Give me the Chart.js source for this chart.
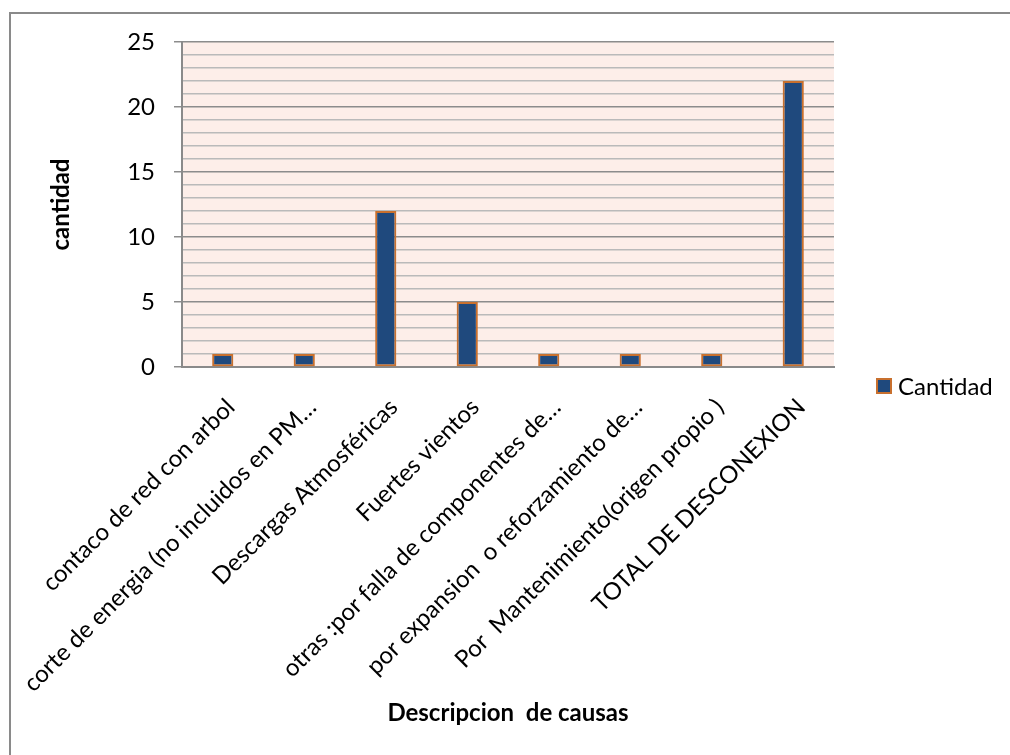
<!DOCTYPE html>
<html>
<head>
<meta charset="utf-8">
<script src="https://cdn.jsdelivr.net/npm/chart.js@4.4.1/dist/chart.umd.min.js"></script>
<style>
  html, body { margin: 0; padding: 0; background: #ffffff; }
  #wrap { position: relative; width: 1010px; height: 755px; }
  canvas { display: block; }
</style>
</head>
<body>
<div id="wrap"><canvas id="chart" width="1010" height="755"></canvas></div>
<script>
// Causes of disconnection and how many times each occurred
const categories = [
  'contaco de red con arbol',
  'corte de energia (no incluidos en PM…',
  'Descargas Atmosféricas',
  'Fuertes vientos',
  'otras :por falla de componentes de…',
  'por expansion  o reforzamiento de…',
  'Por  Mantenimiento(origen propio )',
  'TOTAL DE DESCONEXION'
];
const cantidad = [1, 1, 12, 5, 1, 1, 1, 22];
const seriesName = 'Cantidad';
const yTitle = 'cantidad';
const xTitle = 'Descripcion  de causas';
const yMin = 0;
const yMax = 25;
const yMajorStep = 5;

const FONT = 'Lato, "Open Sans", "Liberation Sans", sans-serif';
const BAR_FILL = '#1F497D';
const BAR_EDGE = '#C8702E';
const MAJOR_GRID = '#8c8c8c';
const MINOR_GRID = '#bababa';

// Pink plot area plus the frame lines around the chart
const backdrop = {
  id: 'backdrop',
  beforeDraw(chart) {
    const { ctx, chartArea: a } = chart;
    ctx.save();
    ctx.fillStyle = '#FDEEE9';
    ctx.fillRect(a.left, a.top, a.right - a.left, a.bottom - a.top);
    ctx.strokeStyle = '#8a8a8a';
    ctx.lineWidth = 2;
    ctx.beginPath();
    ctx.moveTo(10, 755);
    ctx.lineTo(10, 13);
    ctx.lineTo(1010, 13);
    ctx.stroke();
    ctx.restore();
  }
};

// Single-entry legend to the right of the plot
const sideLegend = {
  id: 'sideLegend',
  afterDraw(chart) {
    const { ctx } = chart;
    const ds = chart.data.datasets[0];
    ctx.save();
    ctx.fillStyle = ds.backgroundColor;
    ctx.fillRect(877, 379, 14, 14);
    ctx.strokeStyle = ds.borderColor;
    ctx.lineWidth = 2;
    ctx.strokeRect(877, 379, 14, 14);
    ctx.fillStyle = '#000';
    ctx.font = '24px ' + FONT;
    ctx.textBaseline = 'middle';
    ctx.textAlign = 'left';
    ctx.fillText(ds.label, 898, 387);
    ctx.restore();
  }
};

const isMajor = (c) => c.tick && (c.tick.value % yMajorStep === 0);

new Chart(document.getElementById('chart'), {
  type: 'bar',
  data: {
    labels: categories,
    datasets: [{
      label: seriesName,
      data: cantidad,
      backgroundColor: BAR_FILL,
      borderColor: BAR_EDGE,
      borderWidth: 2,
      borderSkipped: false,
      categoryPercentage: 1,
      barPercentage: 0.26
    }]
  },
  options: {
    responsive: false,
    animation: false,
    devicePixelRatio: 1,
    layout: { padding: { top: 42, right: 176, left: 0, bottom: 0 } },
    plugins: {
      legend: { display: false },
      tooltip: { enabled: false }
    },
    scales: {
      x: {
        afterFit(scale) { scale.height = 388; },
        grid: { display: false, drawTicks: false },
        border: { display: true, color: '#8a8a8a', width: 2 },
        ticks: {
          minRotation: 45,
          maxRotation: 45,
          autoSkip: false,
          padding: 26,
          labelOffset: 8,
          color: '#000',
          font: { family: FONT, size: 24 }
        },
        title: {
          display: true,
          text: xTitle,
          color: '#000',
          font: { family: FONT, size: 24, weight: 'bold' },
          padding: { top: 0, bottom: 27 }
        }
      },
      y: {
        min: yMin,
        max: yMax,
        afterFit(scale) { scale.width = 182; },
        border: { display: true, color: '#8a8a8a', width: 2 },
        grid: {
          color: (c) => isMajor(c) ? MAJOR_GRID : MINOR_GRID,
          tickColor: (c) => isMajor(c) ? MAJOR_GRID : 'rgba(0,0,0,0)',
          lineWidth: 1.5,
          tickLength: 8
        },
        ticks: {
          stepSize: 1,
          autoSkip: false,
          padding: 19,
          color: '#000',
          font: { family: FONT, size: 24 },
          callback: (v) => (v % yMajorStep === 0 ? String(v) : '')
        },
        title: {
          display: true,
          text: yTitle,
          color: '#000',
          font: { family: FONT, size: 24, weight: 'bold' },
          padding: { top: 47, bottom: 0 }
        }
      }
    }
  },
  plugins: [backdrop, sideLegend]
});
</script>
</body>
</html>
